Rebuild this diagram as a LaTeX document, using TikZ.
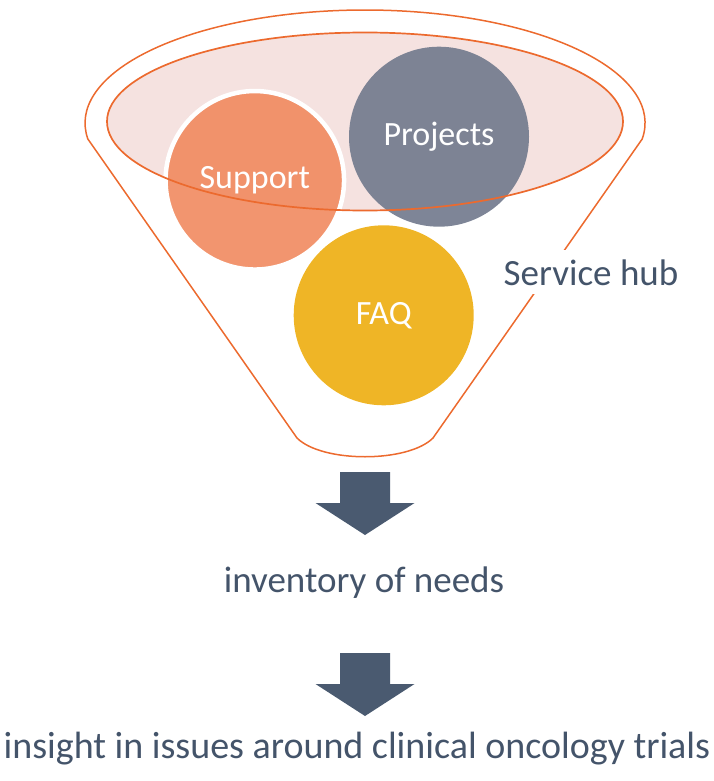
\documentclass[tikz,border=0pt]{standalone}
\usepackage{fontspec}
\setmainfont{Carlito}

\definecolor{funnelline}{HTML}{EC6A2E}
\definecolor{rimpink}{HTML}{F5E2E0}
\definecolor{supportcol}{HTML}{F18A5F}
\definecolor{projectscol}{HTML}{737B8E}
\definecolor{faqcol}{HTML}{EFB526}
\definecolor{slate}{HTML}{44546A}
\definecolor{arrowcol}{HTML}{4A5A70}

\tikzset{
  label text/.style={text=slate, font=\fontsize{37}{44}\selectfont, anchor=base},
  blob/.style={circle, inner sep=0, minimum size=180pt, text=white,
    font=\fontsize{34}{40}\selectfont},
  down arrow/.pic={
    \fill[arrowcol] (-25,0) -- (25,0) -- (25,31) -- (49.5,31) -- (0,63)
      -- (-49.5,31) -- (-25,31) -- cycle;
  }
}

\begin{document}
\begin{tikzpicture}[x=1pt,y=-1pt]

\def \cx {365}
\def \rimy {121.5}

\useasboundingbox (0,0) rectangle (713,781);

% inside of the rim
\fill[rimpink] (\cx,\rimy) ellipse [x radius=258, y radius=89];

% the three services
\node[blob, fill=supportcol, fill opacity=0.9, text opacity=1, draw=white,
  line width=4.5pt, minimum size=178.5pt] (support) at (254.8,180.3) {Support};
\node[blob, fill=projectscol, fill opacity=0.92, text opacity=1] (projects) at (439,136.7) {Projects};
\node[blob, fill=faqcol] (faq) at (383.7,315.3) {FAQ};

% rim outline and funnel body
\draw[funnelline, line width=1.7pt] (\cx,\rimy) ellipse [x radius=258, y radius=89];
\draw[funnelline, line width=1.5pt, line join=round]
  (642.2,139) arc [start angle=8.14, end angle=-188.14, x radius=280, y radius=113]
  -- (297,438) .. controls (322,463) and (408,463) .. (433,438) -- cycle;

\node[label text, fill=white, inner sep=9pt] (hub) at (591,285) {Service hub};

% results
\pic at (\cx,472) {down arrow};
\node[label text] (needs) at (364,592) {inventory of needs};
\pic at (\cx,653) {down arrow};
\node[label text, font=\fontsize{38}{45}\selectfont] (insight) at (357,758) {insight in issues around clinical oncology trials};

\end{tikzpicture}
\end{document}
